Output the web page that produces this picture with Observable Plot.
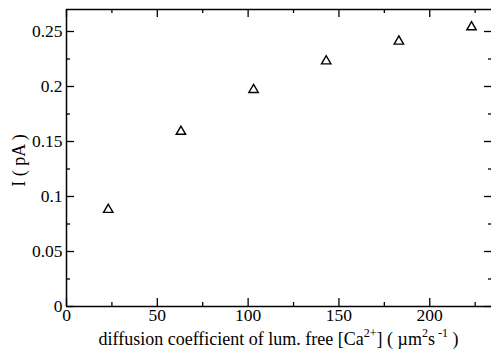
<!DOCTYPE html>
<html>
<head>
<meta charset="utf-8">
<script src="https://cdn.jsdelivr.net/npm/d3@7"></script>
<script src="https://cdn.jsdelivr.net/npm/@observablehq/plot@0.6"></script>
<style>
  html, body { margin: 0; padding: 0; background: #fff; }
  #chart svg { display: block; }
</style>
</head>
<body>
<div id="chart"></div>
<script>
// Data
const diffusion = [23, 63, 103, 143, 183, 223];
const current = [0.088, 0.159, 0.197, 0.223, 0.241, 0.254];

const xDomain = [0, 234];
const yDomain = [0, 0.27];
const xMajorTicks = [0, 50, 100, 150, 200];
const xMinorTicks = [25, 75, 125, 175, 225];
const yMajorTicks = [0, 0.05, 0.1, 0.15, 0.2, 0.25];
const yTickLabels = ["0", "0.05", "0.1", "0.15", "0.2", "0.25"];
const yMinorTicks = [0.025, 0.075, 0.125, 0.175, 0.225];

const points = diffusion.map((d, i) => ({x: d, y: current[i]}));
const yLabelOf = new Map(yMajorTicks.map((t, i) => [t, yTickLabels[i]]));

const font = "'Liberation Serif', 'Times New Roman', serif";
const W = 491, H = 356;
const mL = 66, mT = 9, mB = 50, mR = 0;
const iW = W - mL - mR, iH = H - mT - mB;

const tickStyle = {stroke: "#000", strokeWidth: 1.3};

const chart = Plot.plot({
  width: W,
  height: H,
  marginLeft: mL,
  marginRight: mR,
  marginTop: mT,
  marginBottom: mB,
  style: {fontFamily: font, fontSize: "17px", color: "#000", background: "#fff", overflow: "visible"},
  x: {domain: xDomain},
  y: {domain: yDomain},
  marks: [
    // frame lines (left, bottom, top)
    Plot.ruleX([xDomain[0]], {stroke: "#000", strokeWidth: 1.5}),
    Plot.ruleY([yDomain[0]], {stroke: "#000", strokeWidth: 1.5}),
    Plot.ruleY([yDomain[1]], {stroke: "#000", strokeWidth: 1.5}),
    // tick labels
    Plot.axisY({anchor: "left", ticks: yMajorTicks, tickSize: 0, tickPadding: 4, tickFormat: d => yLabelOf.get(d), label: null, fontSize: 17.5, fontFamily: font, fill: "#000"}),
    Plot.axisX({anchor: "bottom", ticks: xMajorTicks, tickSize: 0, tickPadding: 2, label: null, fontSize: 17.5, fontFamily: font, fill: "#000"}),
    // inward ticks: left
    Plot.tickY(yMajorTicks, {y: d => d, insetRight: iW - 8, ...tickStyle}),
    Plot.tickY(yMinorTicks, {y: d => d, insetRight: iW - 4, ...tickStyle}),
    // right
    Plot.tickY(yMajorTicks, {y: d => d, insetLeft: iW - 7, ...tickStyle}),
    Plot.tickY(yMinorTicks, {y: d => d, insetLeft: iW - 3, ...tickStyle}),
    // bottom
    Plot.tickX(xMajorTicks, {x: d => d, insetTop: iH - 8, ...tickStyle}),
    Plot.tickX(xMinorTicks, {x: d => d, insetTop: iH - 4, ...tickStyle}),
    // top
    Plot.tickX(xMajorTicks, {x: d => d, insetBottom: iH - 8, ...tickStyle}),
    Plot.tickX(xMinorTicks, {x: d => d, insetBottom: iH - 4, ...tickStyle}),
    // data
    Plot.dot(points, {x: "x", y: "y", symbol: "triangle", r: 3.5, stroke: "#000", strokeWidth: 1.4, fill: "none"})
  ]
});

const svg = d3.select(chart);
// x axis title with superscripts
const cx = (mL + W - mR) / 2;
const xt = svg.append("text")
  .attr("x", cx).attr("y", 345)
  .attr("text-anchor", "middle")
  .attr("font-family", font).attr("font-size", 18).attr("fill", "#000");
xt.append("tspan").text("diffusion coefficient of lum. free [Ca");
xt.append("tspan").attr("font-size", 12).attr("dy", -8).text("2+");
xt.append("tspan").attr("dy", 8).text("] ( \u00B5m");
xt.append("tspan").attr("font-size", 12).attr("dy", -8).text("2");
xt.append("tspan").attr("dy", 8).text("s");
xt.append("tspan").attr("font-size", 12).attr("dy", -8).text(" -1");
xt.append("tspan").attr("dy", 8).text(" )");

// y axis title
svg.append("text")
  .attr("transform", `translate(25, ${(mT + H - mB) / 2 + 3}) rotate(-90)`)
  .attr("text-anchor", "middle")
  .attr("font-family", font).attr("font-size", 18).attr("fill", "#000")
  .text("I ( pA )");

document.getElementById("chart").appendChild(chart);
</script>
</body>
</html>
